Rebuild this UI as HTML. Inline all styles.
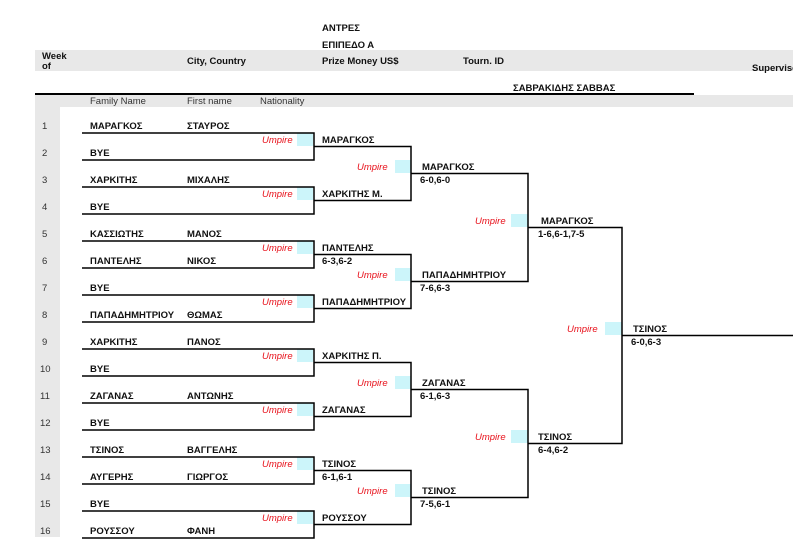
<!DOCTYPE html>
<html><head><meta charset="utf-8"><style>
html,body{margin:0;padding:0;background:#fff;width:793px;height:549px;overflow:hidden}
svg{display:block}
text{font-family:"Liberation Sans",Arial,sans-serif;font-size:9.5px;fill:#111}
.b{font-weight:bold}
.u{fill:#e8101a;font-style:italic}
.n{fill:#333}
</style></head><body>
<svg width="793" height="549" xmlns="http://www.w3.org/2000/svg">
<rect x="35" y="50" width="758" height="21" fill="#e8e8e8"/>
<rect x="35" y="95" width="758" height="12" fill="#e8e8e8"/>
<rect x="35" y="95" width="25" height="442" fill="#e8e8e8"/>
<line x1="35" y1="94" x2="694" y2="94" stroke="#000" stroke-width="2"/>
<text class="b" x="322" y="31">ΑΝΤΡΕΣ</text>
<text class="b" x="322" y="48">ΕΠΙΠΕΔΟ  Α</text>
<text class="b" x="42" y="59">Week</text>
<text class="b" x="42" y="69">of</text>
<text class="b" x="187" y="64">City, Country</text>
<text class="b" x="322" y="64">Prize Money US$</text>
<text class="b" x="463" y="64">Tourn. ID</text>
<text class="b" x="752" y="71">Supervisor</text>
<text class="b" x="513" y="91">ΣΑΒΡΑΚΙΔΗΣ ΣΑΒΒΑΣ</text>
<text class="n" x="90" y="104">Family Name</text>
<text class="n" x="187" y="104">First name</text>
<text class="n" x="260" y="104">Nationality</text>
<g fill="#ccf5fa">
<rect x="297" y="133" width="16" height="13"/><rect x="297" y="187" width="16" height="13"/>
<rect x="297" y="241" width="16" height="13"/><rect x="297" y="295" width="16" height="13"/>
<rect x="297" y="349" width="16" height="13"/><rect x="297" y="403" width="16" height="13"/>
<rect x="297" y="457" width="16" height="13"/><rect x="297" y="511" width="16" height="13"/>
<rect x="395" y="160" width="16" height="13"/><rect x="395" y="268" width="16" height="13"/>
<rect x="395" y="376" width="16" height="13"/><rect x="395" y="484" width="16" height="13"/>
<rect x="511" y="214" width="17" height="13"/><rect x="511" y="430" width="17" height="13"/>
<rect x="605" y="322" width="17" height="13"/>
</g>
<g class="u">
<text class="u" x="262" y="143">Umpire</text><text class="u" x="262" y="197">Umpire</text>
<text class="u" x="262" y="251">Umpire</text><text class="u" x="262" y="305">Umpire</text>
<text class="u" x="262" y="359">Umpire</text><text class="u" x="262" y="413">Umpire</text>
<text class="u" x="262" y="467">Umpire</text><text class="u" x="262" y="521">Umpire</text>
<text class="u" x="357" y="170">Umpire</text><text class="u" x="357" y="278">Umpire</text>
<text class="u" x="357" y="386">Umpire</text><text class="u" x="357" y="494">Umpire</text>
<text class="u" x="475" y="224">Umpire</text><text class="u" x="475" y="440">Umpire</text>
<text class="u" x="567" y="332">Umpire</text>
</g>
<g stroke="#000" stroke-width="1.5" fill="none">
<path d="M82 133H314V160H82M82 187H314V214H82M82 241H314V268H82M82 295H314V322H82M82 349H314V376H82M82 403H314V430H82M82 457H314V484H82M82 511H314V538H82"/>
<path d="M314 146.5H411V200.5H314M314 254.5H411V308.5H314M314 362.5H411V416.5H314M314 470.5H411V524.5H314"/>
<path d="M411 173.5H528V281.5H411M411 389.5H528V497.5H411"/>
<path d="M528 227.5H622V443.5H528"/>
<path d="M622 335.5H793"/>
</g>
<g class="n">
<text class="n" x="42" y="129">1</text><text class="n" x="42" y="156">2</text><text class="n" x="42" y="183">3</text><text class="n" x="42" y="210">4</text>
<text class="n" x="42" y="237">5</text><text class="n" x="42" y="264">6</text><text class="n" x="42" y="291">7</text><text class="n" x="42" y="318">8</text>
<text class="n" x="42" y="345">9</text><text class="n" x="40" y="372">10</text><text class="n" x="40" y="399">11</text><text class="n" x="40" y="426">12</text>
<text class="n" x="40" y="453">13</text><text class="n" x="40" y="480">14</text><text class="n" x="40" y="507">15</text><text class="n" x="40" y="534">16</text>
</g>
<g class="b">
<text class="b" x="90" y="129">ΜΑΡΑΓΚΟΣ</text><text class="b" x="187" y="129">ΣΤΑΥΡΟΣ</text>
<text class="b" x="90" y="156">BYE</text>
<text class="b" x="90" y="183">ΧΑΡΚΙΤΗΣ</text><text class="b" x="187" y="183">ΜΙΧΑΛΗΣ</text>
<text class="b" x="90" y="210">BYE</text>
<text class="b" x="90" y="237">ΚΑΣΣΙΩΤΗΣ</text><text class="b" x="187" y="237">ΜΑΝΟΣ</text>
<text class="b" x="90" y="264">ΠΑΝΤΕΛΗΣ</text><text class="b" x="187" y="264">ΝΙΚΟΣ</text>
<text class="b" x="90" y="291">BYE</text>
<text class="b" x="90" y="318">ΠΑΠΑΔΗΜΗΤΡΙΟΥ</text><text class="b" x="187" y="318">ΘΩΜΑΣ</text>
<text class="b" x="90" y="345">ΧΑΡΚΙΤΗΣ</text><text class="b" x="187" y="345">ΠΑΝΟΣ</text>
<text class="b" x="90" y="372">BYE</text>
<text class="b" x="90" y="399">ΖΑΓΑΝΑΣ</text><text class="b" x="187" y="399">ΑΝΤΩΝΗΣ</text>
<text class="b" x="90" y="426">BYE</text>
<text class="b" x="90" y="453">ΤΣΙΝΟΣ</text><text class="b" x="187" y="453">ΒΑΓΓΕΛΗΣ</text>
<text class="b" x="90" y="480">ΑΥΓΕΡΗΣ</text><text class="b" x="187" y="480">ΓΙΩΡΓΟΣ</text>
<text class="b" x="90" y="507">BYE</text>
<text class="b" x="90" y="534">ΡΟΥΣΣΟΥ</text><text class="b" x="187" y="534">ΦΑΝΗ</text>

<text class="b" x="322" y="143">ΜΑΡΑΓΚΟΣ</text>
<text class="b" x="322" y="197">ΧΑΡΚΙΤΗΣ  Μ.</text>
<text class="b" x="322" y="251">ΠΑΝΤΕΛΗΣ</text><text class="b" x="322" y="264">6-3,6-2</text>
<text class="b" x="322" y="305">ΠΑΠΑΔΗΜΗΤΡΙΟΥ</text>
<text class="b" x="322" y="359">ΧΑΡΚΙΤΗΣ  Π.</text>
<text class="b" x="322" y="413">ΖΑΓΑΝΑΣ</text>
<text class="b" x="322" y="467">ΤΣΙΝΟΣ</text><text class="b" x="322" y="480">6-1,6-1</text>
<text class="b" x="322" y="521">ΡΟΥΣΣΟΥ</text>

<text class="b" x="422" y="170">ΜΑΡΑΓΚΟΣ</text><text class="b" x="420" y="183">6-0,6-0</text>
<text class="b" x="422" y="278">ΠΑΠΑΔΗΜΗΤΡΙΟΥ</text><text class="b" x="420" y="291">7-6,6-3</text>
<text class="b" x="422" y="386">ΖΑΓΑΝΑΣ</text><text class="b" x="420" y="399">6-1,6-3</text>
<text class="b" x="422" y="494">ΤΣΙΝΟΣ</text><text class="b" x="420" y="507">7-5,6-1</text>

<text class="b" x="541" y="224">ΜΑΡΑΓΚΟΣ</text><text class="b" x="538" y="237">1-6,6-1,7-5</text>
<text class="b" x="538" y="440">ΤΣΙΝΟΣ</text><text class="b" x="538" y="453">6-4,6-2</text>

<text class="b" x="633" y="332">ΤΣΙΝΟΣ</text><text class="b" x="631" y="345">6-0,6-3</text>
</g>
</svg>
</body></html>
